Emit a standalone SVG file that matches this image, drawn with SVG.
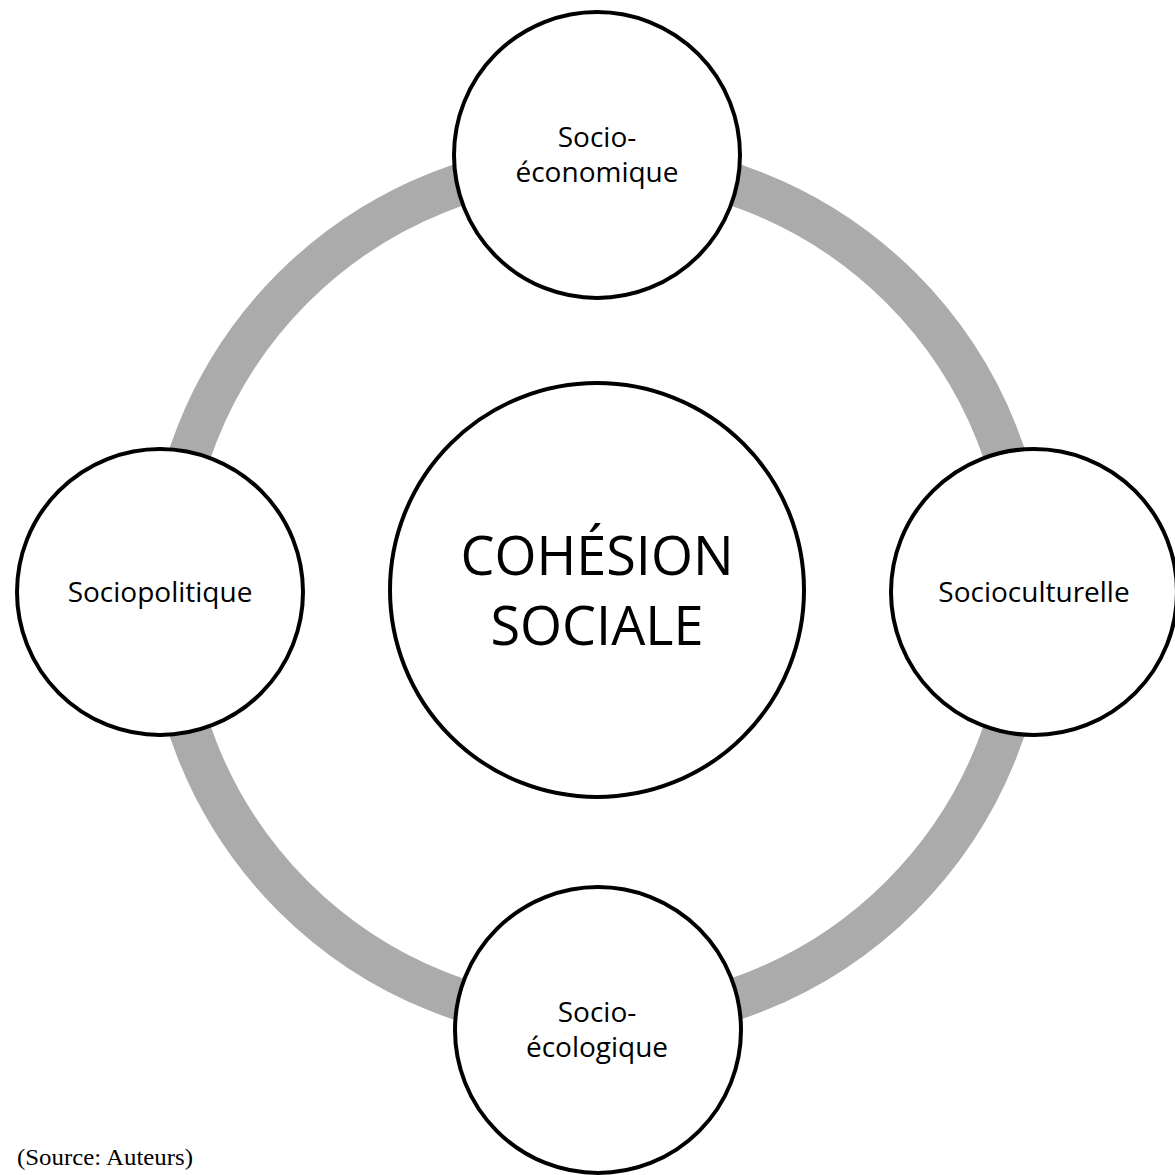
<svg xmlns="http://www.w3.org/2000/svg" width="1175" height="1175" viewBox="0 0 1175 1175">
<style>
.node{fill:#ffffff;stroke:#000000;stroke-width:4}
.lbl{font-family:"Open Sans","Noto Sans",sans-serif;font-size:28px;fill:#000;text-anchor:middle}
.big{font-family:"Open Sans","Noto Sans",sans-serif;font-size:54px;fill:#000;text-anchor:middle}
.src{font-family:"Liberation Serif",serif;font-size:24px;fill:#000}
</style>
<rect width="1175" height="1175" fill="#ffffff"/>
<g id="connectors">
<circle cx="597" cy="592" r="430" fill="none" stroke="#ababab" stroke-width="42"/>
</g>
<g id="center">
<circle class="node" cx="597" cy="590" r="207" stroke-width="3.5"/>
<text class="big" x="597" y="575">COHÉSION</text>
<text class="big" x="597" y="645">SOCIALE</text>
</g>
<g id="top">
<circle class="node" cx="597" cy="155" r="143"/>
<text class="lbl" x="597" y="147">Socio-</text>
<text class="lbl" x="597" y="182">économique</text>
</g>
<g id="left">
<circle class="node" cx="160" cy="592" r="143"/>
<text class="lbl" x="160" y="602">Sociopolitique</text>
</g>
<g id="right">
<circle class="node" cx="1034" cy="592" r="143"/>
<text class="lbl" x="1034" y="602">Socioculturelle</text>
</g>
<g id="bottom">
<circle class="node" cx="598" cy="1030" r="143"/>
<text class="lbl" x="597" y="1022">Socio-</text>
<text class="lbl" x="597" y="1057">écologique</text>
</g>
<text class="src" x="17" y="1165" textLength="176" lengthAdjust="spacingAndGlyphs">(Source: Auteurs)</text>
</svg>
